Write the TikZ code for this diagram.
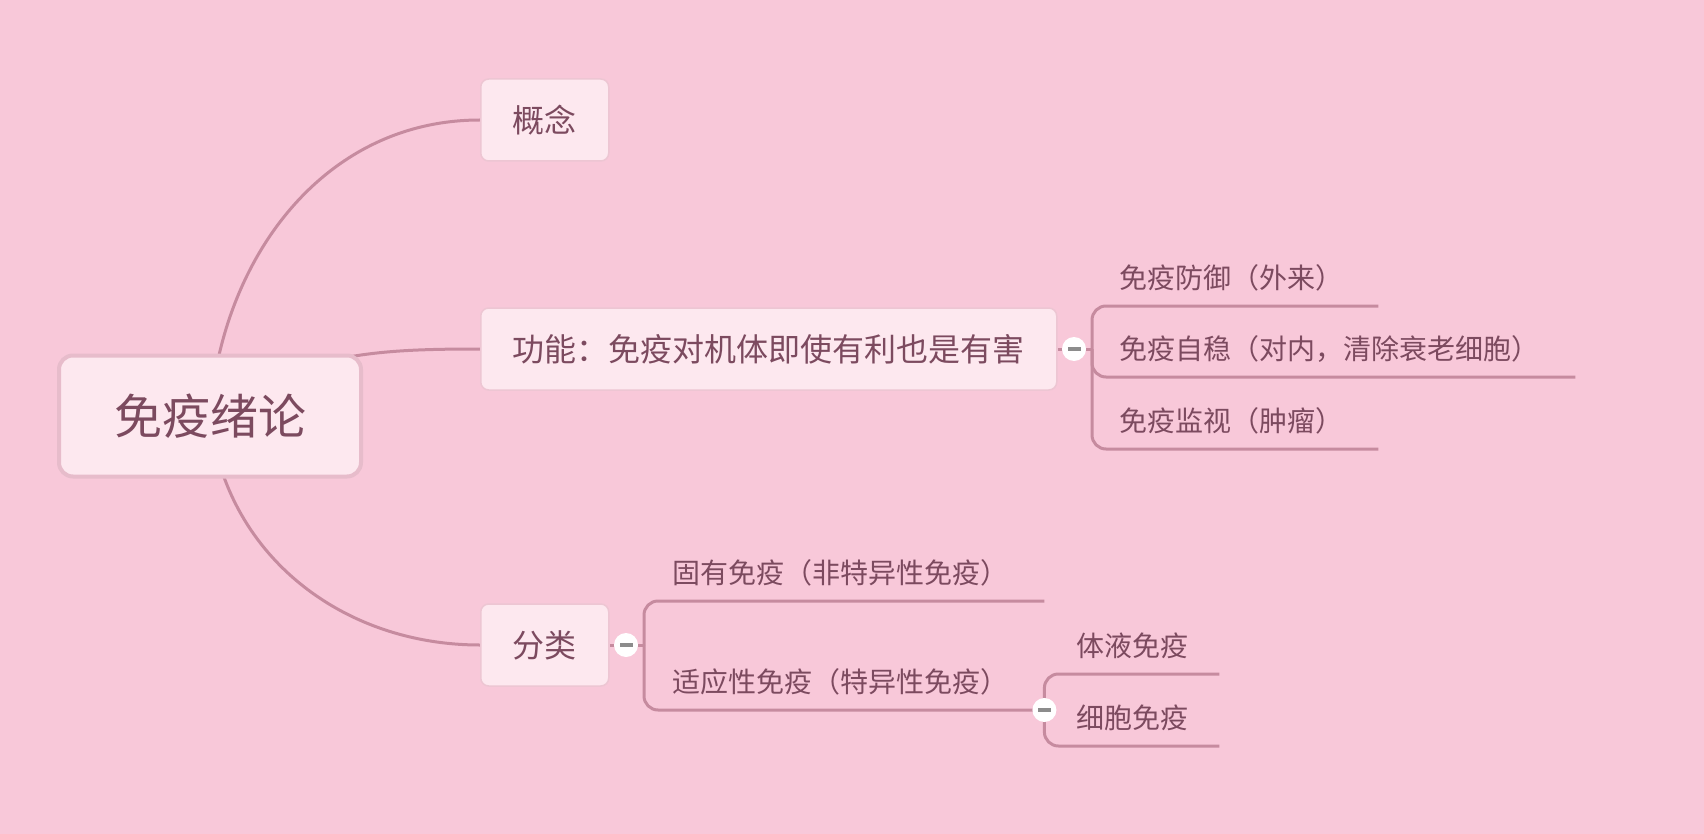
\documentclass[tikz,border=0pt]{standalone}
\usepackage{fontspec}
\setmainfont{Noto Sans CJK SC}
\usetikzlibrary{backgrounds}

\definecolor{bgpink}{HTML}{F8C8D9}
\definecolor{boxfill}{HTML}{FDE8EF}
\definecolor{boxline}{HTML}{EDC6D3}
\definecolor{rootline}{HTML}{E7BCCB}
\definecolor{linkcol}{HTML}{C68B9F}
\definecolor{textcol}{HTML}{7C4A5F}
\definecolor{minuscol}{HTML}{8C8C8C}

\tikzset{
  maintopic/.style={draw=rootline, fill=boxfill, line width=4, rounded corners=14,
    text=textcol, font=\fontsize{48}{56}\selectfont, minimum height=121, inner xsep=55},
  topic/.style={draw=boxline, fill=boxfill, line width=1.5, rounded corners=8, anchor=west,
    text=textcol, font=\fontsize{32}{38}\selectfont, minimum height=82, inner xsep=32},
  leaf/.style={anchor=south west, text=textcol, font=\fontsize{28}{34}\selectfont,
    inner xsep=0, inner ysep=17, text height=24, text depth=0, align=left},
  link/.style={draw=linkcol, line width=3},
  branch/.style={link, rounded corners=14},
  fold/.style={circle, fill=white, minimum size=24, inner sep=0,
    path picture={\fill[minuscol] ([xshift=-6.5,yshift=-1.7]path picture bounding box.center) rectangle ++(13,3.4);}}
}

\begin{document}
\begin{tikzpicture}[x=1pt,y=1pt]
\useasboundingbox (0,0) rectangle (1704,-834);
\begin{pgfonlayer}{background}
\fill[bgpink] (0,0) rectangle (1704,-834);
\end{pgfonlayer}

%% topics
\node[maintopic] (root) at (210,-416) {免疫绪论};
\node[topic] (concept) at (480,-120) {概念};
\node[topic] (func) at (480,-349) {功能：免疫对机体即使有利也是有害};
\node[topic] (classify) at (480,-645) {分类};

%% subtopics
\node[leaf, text width=259] (defense) at (1119,-306) {免疫防御（外来）};
\node[leaf, text width=456] (stable) at (1119,-377) {免疫自稳（对内，清除衰老细胞）};
\node[leaf, text width=259] (watch) at (1119,-449) {免疫监视（肿瘤）};

\node[leaf, text width=372] (innate) at (672,-601) {固有免疫（非特异性免疫）};
\node[leaf, text width=372] (adaptive) at (672,-710) {适应性免疫（特异性免疫）};

\node[leaf, text width=143] (humoral) at (1076,-674) {体液免疫};
\node[leaf, text width=143] (cellular) at (1076,-746) {细胞免疫};

%% fold buttons
\node[fold] (ffold) at (1074,-349) {};
\node[fold] (cfold) at (626,-645) {};
\node[fold] (afold) at (adaptive.south east) {};
\coordinate (fj) at (1092,-349);
\coordinate (cj) at (644,-645);

%% edges
\begin{pgfonlayer}{background}
\draw[link] (root.center) to[out=86,in=180] (concept.west);
\draw[link] (root.center) to[out=35,in=180] (func.west);
\draw[link] (root.center) to[out=-84,in=180] (classify.west);

\draw[link] (func) -- (ffold);
\draw[link] (ffold) -- (fj);
\draw[branch] (fj) |- (defense.south east);
\draw[branch] (fj) |- (stable.south east);
\draw[branch] (fj) |- (watch.south east);

\draw[link] (classify) -- (cfold);
\draw[link] (cfold) -- (cj);
\draw[branch] (cj) |- (innate.south east);
\draw[branch] (cj) |- (adaptive.south east);

\draw[branch] (afold.center) |- (humoral.south east);
\draw[branch] (afold.center) |- (cellular.south east);
\end{pgfonlayer}
\end{tikzpicture}
\end{document}
